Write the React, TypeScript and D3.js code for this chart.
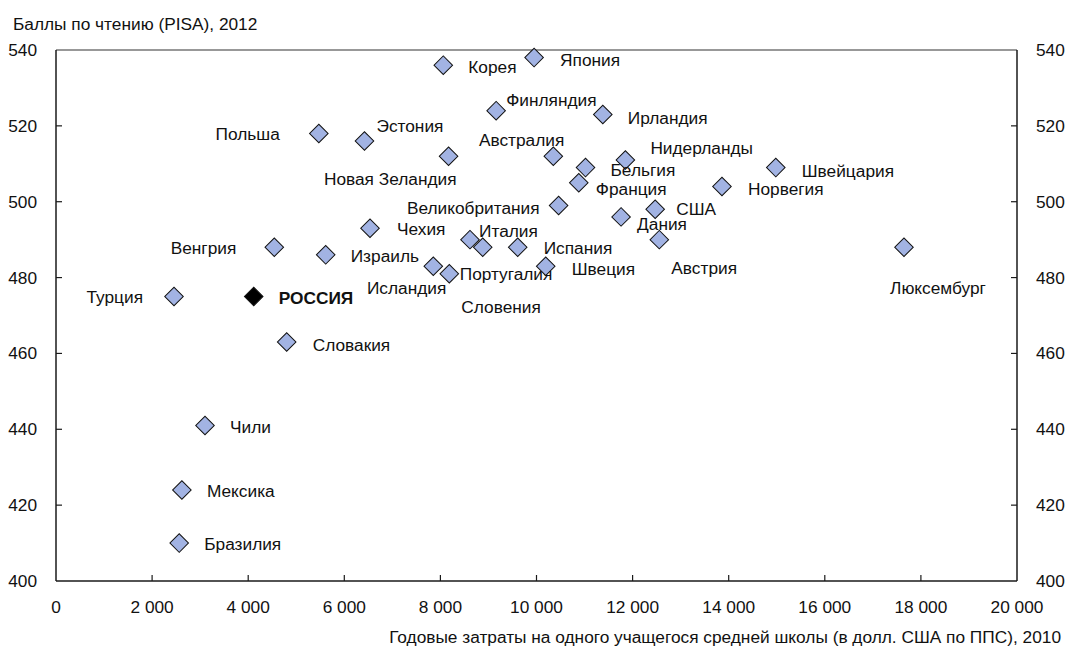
import React from 'react';
import * as d3 from 'd3';

const countries = ['Корея','Япония','Финляндия','Ирландия','Польша','Эстония','Новая Зеландия','Австралия','Нидерланды','Бельгия','Швейцария','Франция','Норвегия','Великобритания','США','Дания','Чехия','Италия','Австрия','Венгрия','Испания','Португалия','Люксембург','Израиль','Швеция','Исландия','Словения','Турция','РОССИЯ','Словакия','Чили','Мексика','Бразилия'];
const spending = [8060,9950,9160,11380,5470,6420,8170,10350,11850,11020,14980,10880,13860,10460,12470,11760,6535,8616,12556,4543,9609,8881,17648,5613,10192,7852,8185,2456,4115,4801,3101,2620,2564];
const reading = [536,538,524,523,518,516,512,512,511,509,509,505,504,499,498,496,493,490,490,488,488,488,488,486,483,483,481,475,475,463,441,424,410];
const highlight = 'РОССИЯ';
const xTicks = [0,2000,4000,6000,8000,10000,12000,14000,16000,18000,20000];
const yTicks = [400,420,440,460,480,500,520,540];
const yTitle = 'Баллы по чтению (PISA), 2012';
const xTitle = 'Годовые затраты на одного учащегося средней школы (в долл. США по ППС), 2010';

// label layout: [dx, dy, anchor]
const labelLayout: [number, number, string][] = [
  [25,2,'start'],[26,2,'start'],[10,-11,'start'],[25,3,'start'],[-39,1,'end'],[12,-15,'start'],
  [8,23,'end'],[11,-16,'end'],[25,-12,'start'],[25,2,'start'],[26,3,'start'],[17,6,'start'],
  [26,2,'start'],[-19,2,'end'],[21,0,'start'],[16,7,'start'],[27,1,'start'],[9,-9,'start'],
  [12,28,'start'],[-38,1,'end'],[26,1,'start'],[-23,27,'start'],[34,41,'middle'],[25,1,'start'],
  [26,3,'start'],[13,22,'end'],[12,33,'start'],[-31,0,'end'],[25,1,'start'],[26,3,'start'],
  [25,1,'start'],[25,1,'start'],[25,1,'start']
];

const W = 1069, H = 646;
const L = 56, R = 1017, T = 50, B = 581;
const FONT = '"Liberation Sans", Arial, sans-serif';

export default function App() {
  React.useEffect(() => { document.body.style.margin = '0'; }, []);
  const x = d3.scaleLinear().domain([0, 20000]).range([L, R]);
  const y = d3.scaleLinear().domain([400, 540]).range([B, T]);
  const fmt = d3.formatLocale({ decimal: ',', thousands: ' ', grouping: [3], currency: ['', ''] }).format(',');
  const diamond = d3.symbol().type(d3.symbolSquare).size(172)() as string;
  const axisColor = '#1a1a1a';
  return (
    <svg width={W} height={H} style={{ position: 'absolute', left: 0, top: 0, background: '#fff' }} fontFamily={FONT} fontSize={17.3}>
      <line x1={L} x2={R} y1={T} y2={T} stroke="#333" strokeWidth={1.2} />
      <line x1={L} x2={L} y1={T} y2={B} stroke={axisColor} strokeWidth={1.5} />
      <line x1={R} x2={R} y1={T} y2={B} stroke={axisColor} strokeWidth={1.5} />
      <line x1={L} x2={R} y1={B} y2={B} stroke={axisColor} strokeWidth={1.5} />
      {xTicks.map(t => (
        <g key={'x' + t}>
          {t > 0 && t < 20000 && <line x1={x(t)} x2={x(t)} y1={B} y2={B - 6} stroke={axisColor} strokeWidth={1.2} />}
          <text x={x(t)} y={B + 26} textAnchor="middle" dy="0.35em" fill="#111">{fmt(t)}</text>
        </g>
      ))}
      {yTicks.map(t => (
        <g key={'y' + t}>
          {t > 400 && t < 540 && <line x1={L} x2={L + 6} y1={y(t)} y2={y(t)} stroke={axisColor} strokeWidth={1.2} />}
          {t > 400 && t < 540 && <line x1={R} x2={R - 6} y1={y(t)} y2={y(t)} stroke={axisColor} strokeWidth={1.2} />}
          <text x={L - 19} y={y(t)} textAnchor="end" dy="0.35em" fill="#111">{t}</text>
          <text x={R + 19} y={y(t)} textAnchor="start" dy="0.35em" fill="#111">{t}</text>
        </g>
      ))}
      <text x={13} y={24} dy="0.35em" fill="#111">{yTitle}</text>
      <text x={1061} y={637} dy="0.35em" textAnchor="end" fill="#111">{xTitle}</text>
      {countries.map((c, i) => {
        const px = x(spending[i]);
        const py = y(reading[i]);
        const [dx, dy, anchor] = labelLayout[i];
        const hl = c === highlight;
        return (
          <g key={c}>
            <path d={diamond} transform={`translate(${px},${py}) rotate(45)`} fill={hl ? '#000' : '#a2b3e3'} stroke="#111" strokeWidth={1} />
            <text x={px + dx} y={py + dy} dy="0.35em" textAnchor={anchor as any} fontWeight={hl ? 'bold' : 'normal'} fill="#111">{c}</text>
          </g>
        );
      })}
    </svg>
  );
}
